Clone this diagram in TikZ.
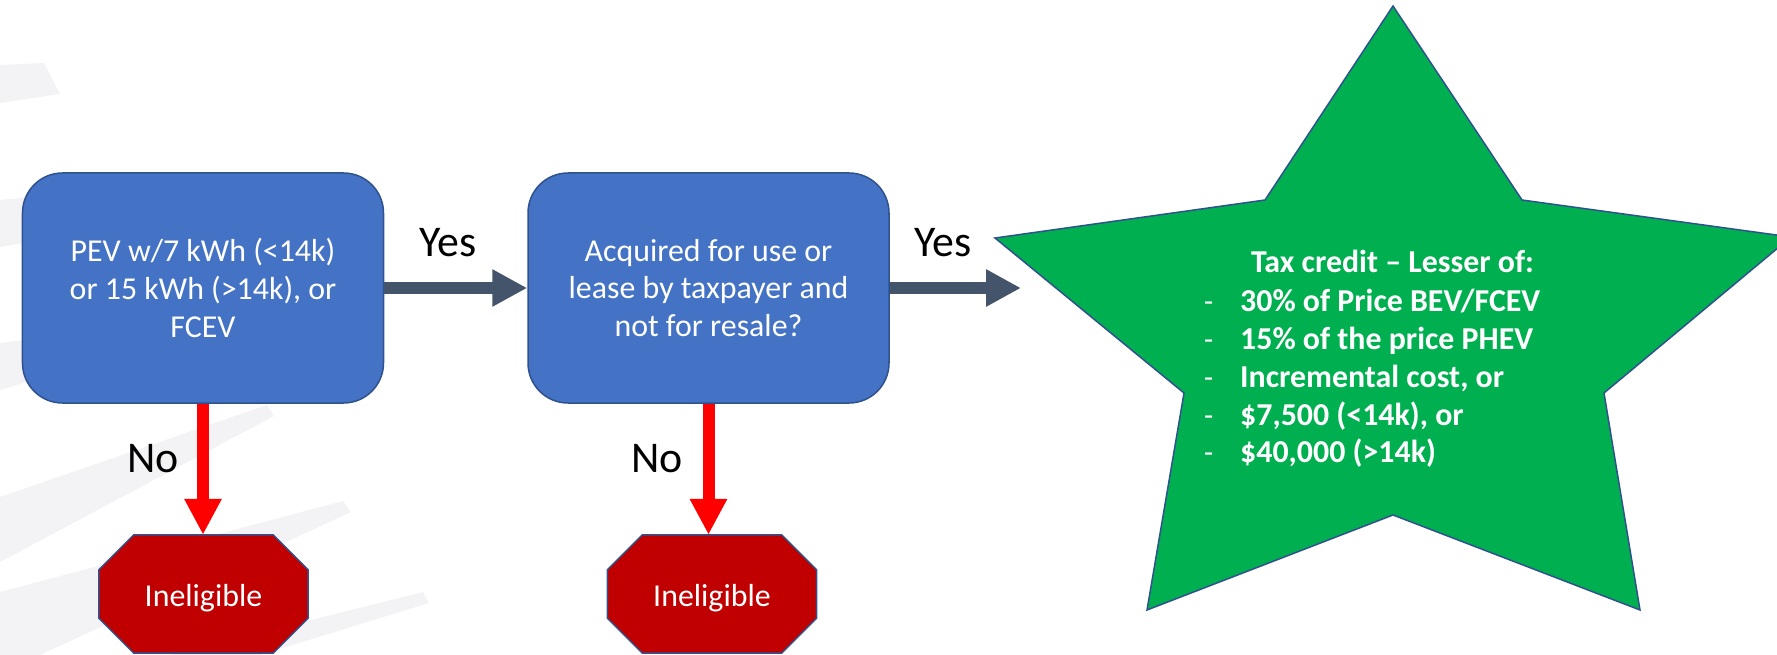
\documentclass[tikz,border=0pt]{standalone}
\usepackage{fontspec}
\setmainfont{Carlito}
\usetikzlibrary{arrows.meta,calc}
\definecolor{boxblue}{HTML}{4472C4}
\definecolor{edgeblue}{HTML}{2F528F}
\definecolor{arrowgrey}{HTML}{44546A}
\definecolor{stopred}{HTML}{C00000}
\definecolor{stargreen}{HTML}{00B050}
\definecolor{swoosh}{HTML}{F3F3F5}
\tikzset{
  decision/.style={draw=edgeblue, line width=1.5bp, fill=boxblue, rounded corners=40bp,
    minimum width=361bp, minimum height=230bp, text=white, align=center,
    font=\fontsize{32}{38}\selectfont, inner sep=0pt},
  stopbox/.style={minimum width=209bp, minimum height=118bp, inner sep=0pt},
  octo/.style={draw=edgeblue, line width=1.5bp, fill=stopred},
  stoptext/.style={text=white, font=\fontsize{32}{38}\selectfont, inner sep=0pt, anchor=base},
  yesarrow/.style={draw=arrowgrey, line width=12.5bp, -{Triangle[length=35bp,width=35bp]}},
  noarrow/.style={draw=red, line width=12bp, -{Triangle[length=36bp,width=35bp]}},
  answer/.style={font=\fontsize{44}{50}\selectfont, inner sep=0pt, anchor=base},
  starshape/.style={draw=edgeblue, line width=1.5bp, fill=stargreen, line join=miter},
  startext/.style={text=white, font=\bfseries\fontsize{32}{38}\selectfont, inner sep=0pt, anchor=base west},
  stardash/.style={text=white, font=\fontsize{30}{38}\selectfont, inner sep=0pt, anchor=base west},
}
\begin{document}
\begin{tikzpicture}[x=1bp,y=-1bp]
\useasboundingbox (0,0) rectangle (1777,655);
% faint background swooshes
\fill[swoosh] (0,65) -- (44,63) -- (60,94) -- (0,103) -- cycle;
\fill[swoosh] (0,200) -- (40,196) -- (40,240) -- (0,247) -- cycle;
\fill[swoosh] (0,343) -- (40,338) -- (40,378) -- (0,390) -- cycle;
\fill[swoosh] (0,497) -- (267,405) -- (274,416) -- (0,562) -- cycle;
\fill[swoosh] (0,592) -- (343,501) -- (351,512) -- (40,655) -- (0,655) -- cycle;
\fill[swoosh] (170,655) -- (423,592) -- (429,603) -- (260,655) -- cycle;

% decision boxes
\node[decision] (q1) at (203,288) {PEV w/7 kWh (<14k)\\or 15 kWh (>14k), or\\FCEV};
\node[decision] (q2) at (708.5,288) {Acquired for use or\\lease by taxpayer and\\not for resale?};

% stop signs
\node[stopbox] (s1) at (203.5,594) {};
\node[stopbox] (s2) at (712,594) {};
\foreach \s in {s1,s2}{
  \draw[octo] ($(\s.north west)+(35,0)$) -- ($(\s.north east)+(-35,0)$)
    -- ($(\s.north east)+(0,35)$) -- ($(\s.south east)+(0,-35)$)
    -- ($(\s.south east)+(-35,0)$) -- ($(\s.south west)+(35,0)$)
    -- ($(\s.south west)+(0,-35)$) -- ($(\s.north west)+(0,35)$) -- cycle;
}
\node[stoptext] (l1) at (203.5,606) {Ineligible};
\node[stoptext] (l2) at (712,606) {Ineligible};

% star
\coordinate (p1) at (1393,6);
\coordinate (p2) at (1522,200);
\coordinate (p3) at (1791,237);
\coordinate (p4) at (1604,393);
\coordinate (p5) at (1640,610);
\coordinate (p6) at (1393,515);
\coordinate (p7) at (1147,610);
\coordinate (p8) at (1184,393);
\coordinate (p9) at (995,238);
\coordinate (p10) at (1265,200);
\draw[starshape] (p1) -- (p2) -- (p3) -- (p4) -- (p5) -- (p6) -- (p7) -- (p8) -- (p9) -- (p10) -- cycle;

\node[startext, anchor=base] (title) at (1392.5,272) {Tax credit – Lesser of:};
\foreach \y/\t [count=\i] in {311/{30\% of Price BEV/FCEV}, 349/{15\% of the price PHEV},
   387/{Incremental cost, or}, 425/{\$7,500 (<14k), or}, 462/{\$40,000 (>14k)}}{
  \node[stardash] (d\i) at (1204,\y) {-};
  \node[startext] (t\i) at (1240,\y) {\t};
}

% connectors
\coordinate (a2end) at (1021,288);
\draw[yesarrow] (q1.east) -- (q2.west);
\draw[yesarrow] (q2.east) -- (a2end);
\draw[noarrow] (q1.south) -- (q1.south |- s1.north);
\draw[noarrow] (q2.south) -- (q2.south |- s2.north);

% labels
\node[answer] (y1) at (448,256) {Yes};
\node[answer] (y2) at (943,256) {Yes};
\node[answer] (n1) at (153,472) {No};
\node[answer] (n2) at (657,472) {No};
\end{tikzpicture}
\end{document}
